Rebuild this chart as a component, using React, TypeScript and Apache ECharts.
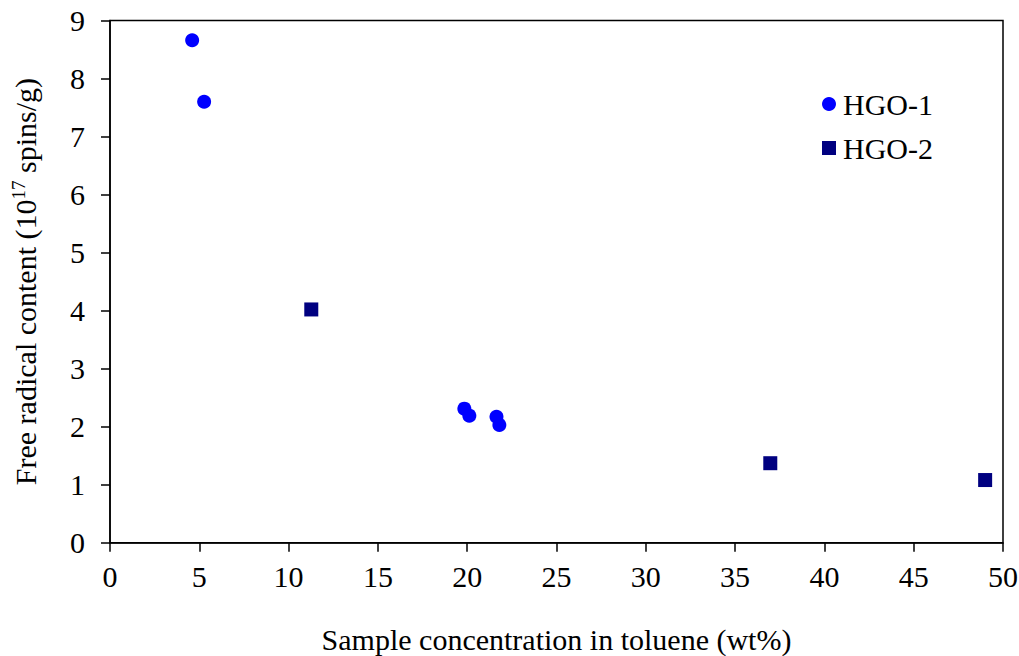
import React, { useEffect, useRef } from "react";
import * as echarts from "echarts";

const hgo1X = [4.6, 5.27, 19.84, 20.12, 21.64, 21.8];
const hgo1Y = [8.66, 7.6, 2.31, 2.19, 2.17, 2.03];
const hgo2X = [11.27, 36.97, 49.0];
const hgo2Y = [4.02, 1.37, 1.08];
const xTicks = { min: 0, max: 50, interval: 5 };
const yTicks = { min: 0, max: 9, interval: 1 };

const FONT = "Liberation Serif";
const FS = 30;

export default function App() {
  const ref = useRef<HTMLDivElement>(null);
  useEffect(() => {
    if (!ref.current) return;
    const chart = echarts.init(ref.current, undefined, { renderer: "svg" });
    chart.setOption({
      animation: false,
      backgroundColor: "#ffffff",
      textStyle: { fontFamily: FONT, color: "#000" },
      grid: {
        left: 110,
        top: 20.5,
        right: 16,
        bottom: 113.3,
        show: true,
        borderColor: "#000",
        borderWidth: 1.5,
        containLabel: false,
        outerBoundsMode: "none",
      },
      legend: {
        orient: "vertical",
        left: 817,
        top: 84,
        itemWidth: 14,
        itemHeight: 14,
        itemGap: 14,
        itemStyle: { opacity: 1 },
        textStyle: { fontFamily: FONT, fontSize: FS, color: "#000", padding: [0, 0, 0, 2] },
        data: [
          { name: "HGO-1", icon: "circle" },
          { name: "HGO-2", icon: "rect" },
        ],
      },
      xAxis: {
        type: "value",
        ...xTicks,
        name: "Sample concentration in toluene (wt%)",
        nameLocation: "middle",
        nameGap: 82,
        nameTextStyle: { fontFamily: FONT, fontSize: FS, color: "#000" },
        axisLine: { show: true, lineStyle: { color: "#000", width: 1.5 } },
        axisTick: { show: true, inside: false, length: 9, lineStyle: { color: "#000", width: 1.5 } },
        axisLabel: { fontFamily: FONT, fontSize: FS, color: "#000", margin: 19 },
        splitLine: { show: false },
      },
      yAxis: {
        type: "value",
        ...yTicks,
        name: "Free radical content (10{sup|17} spins/g)",
        nameLocation: "middle",
        nameGap: 68,
        nameRotate: 90,
        nameTextStyle: {
          fontFamily: FONT,
          fontSize: FS,
          color: "#000",
          rich: {
            sup: { fontFamily: FONT, fontSize: 19, color: "#000", verticalAlign: "top", padding: [0, 0, 14, 0] },
          },
        },
        axisLine: { show: true, lineStyle: { color: "#000", width: 1.5 } },
        axisTick: { show: true, inside: false, length: 9, lineStyle: { color: "#000", width: 1.5 } },
        axisLabel: { fontFamily: FONT, fontSize: FS, color: "#000", margin: 25 },
        splitLine: { show: false },
      },
      series: [
        {
          name: "HGO-1",
          type: "scatter",
          symbol: "circle",
          symbolSize: 14,
          itemStyle: { color: "#0000ff", opacity: 1 },
          data: hgo1X.map((x, i) => [x, hgo1Y[i]]),
        },
        {
          name: "HGO-2",
          type: "scatter",
          symbol: "rect",
          symbolSize: 14,
          itemStyle: { color: "#000080", opacity: 1 },
          data: hgo2X.map((x, i) => [x, hgo2Y[i]]),
        },
      ],
    });
    return () => chart.dispose();
  }, []);
  return (
    <div
      ref={ref}
      style={{ position: "fixed", left: 0, top: 0, width: 1019, height: 656 }}
    />
  );
}
